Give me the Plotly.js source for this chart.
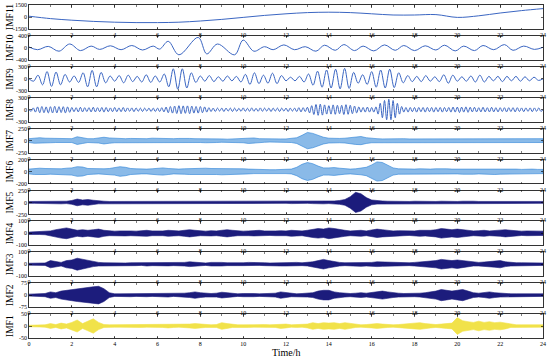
<!DOCTYPE html>
<html>
<head>
<meta charset="utf-8">
<script src="https://cdn.plot.ly/plotly-3.0.1.min.js"></script>
<style>html,body{margin:0;padding:0;background:#fff;}#chart{width:550px;height:362px;}</style>
</head>
<body>
<div id="chart"></div>
<script>
// ---------------- data ----------------
const xTickVals = [0, 2, 4, 6, 8, 10, 12, 14, 16, 18, 20, 22, 24];
const imfNames = ['IMF11', 'IMF10', 'IMF9', 'IMF8', 'IMF7', 'IMF6', 'IMF5', 'IMF4', 'IMF3', 'IMF2', 'IMF1'];
const yLimits = [1500, 400, 300, 300, 250, 200, 250, 100, 100, 75, 50];

// IMF11: hourly samples (t = 0..24 h)
const imf11Hours = [0,1,2,3,4,5,6,7,8,9,10,11,12,13,14,15,16,17,18,19,20,21,22,23,24];
const imf11 = [100,-200,-400,-550,-650,-700,-700,-650,-500,-300,-50,200,400,550,600,550,400,250,250,300,-50,150,500,800,1050];

// IMF10: extrema (time in h, value)
const imf10Time = [0,0.4,0.9,1.4,1.9,2.4,2.9,3.3,3.8,4.3,4.8,5.3,5.8,6.1,6.5,7.0,7.9,8.3,8.8,9.6,10.0,10.5,11.0,11.4,11.9,12.4,12.9,13.4,13.8,14.3,14.7,15.2,15.6,16.1,16.6,17.1,17.5,18.0,18.5,19.0,19.4,19.9,20.3,20.8,21.2,21.7,22.2,22.6,23.1,23.6,24.0];
const imf10 = [30,-60,50,-110,130,-90,60,-50,70,-60,80,-70,60,-40,220,-230,350,-200,130,-230,260,-110,40,-60,100,-60,40,-110,90,-80,110,-90,60,-100,100,-80,80,-90,70,-70,90,-100,60,-90,80,-60,110,-80,60,-50,20];

// IMF9: successive extrema, evenly spaced over 0..24 h
const imf9 = [0,-60,90,-150,180,-190,170,-150,110,-80,70,-90,150,-200,210,-200,160,-100,70,-60,80,-100,90,-70,60,-80,100,-90,70,-80,120,-200,250,-260,250,-230,150,-90,70,-60,80,-70,50,-60,70,-50,60,-80,110,-140,150,-120,90,-110,140,-120,80,-50,40,-50,60,-80,120,-160,190,-210,220,-230,240,-250,260,-240,160,-110,100,-140,180,-210,220,-230,240,-220,150,-100,80,-70,60,-70,80,-60,50,-70,100,-110,90,-60,50,-60,70,-80,90,-80,60,-50,60,-70,60,-50,60,-60,50,-50,40,-40,0];

// IMF8: successive extrema, evenly spaced over 0..24 h
const imf8 = [
0,-40,45,-60,70,-75,80,-75,70,-80,
75,-80,85,-80,75,-70,75,-80,70,-65,
55,-50,50,-55,60,-55,50,-45,50,-55,
60,-55,50,-50,55,-60,55,-50,45,-50,
55,-50,45,-50,55,-50,45,-40,45,-50,
45,-40,40,-45,40,-35,40,-45,40,-45,
40,-45,50,-55,65,-75,80,-85,90,-95,
100,-100,95,-90,95,-100,90,-85,80,-85,
80,-75,70,-60,50,-45,40,-45,40,-35,
40,-45,40,-35,40,-45,40,-40,35,-40,
45,-40,35,-40,45,-40,35,-40,45,-40,
40,-35,40,-45,40,-35,40,-45,40,-35,
40,-45,40,-35,40,-45,50,-55,50,-45,
60,-80,100,-120,130,-140,140,-135,120,-110,
100,-110,120,-115,110,-100,110,-120,125,-115,
110,-100,90,-80,70,-60,55,-60,65,-60,
55,-60,70,-110,160,-200,230,-250,260,-250,
230,-200,160,-110,80,-60,55,-60,55,-50,
55,-60,55,-50,55,-60,55,-50,55,-60,
55,-50,55,-60,55,-50,55,-60,65,-60,
65,-70,65,-60,70,-65,60,-55,60,-55,
50,-55,60,-55,50,-55,60,-55,50,-55,
50,-45,50,-55,50,-45,50,-55,50,-45,
45,-50,45,-40,45,-50,45,-40,45,-40,
0];

// IMF7..IMF1: amplitude envelopes sampled every 0.25 h (0..24 h)
const env7 = [40,55,60,50, 45,40,35,35, 40,80,60,40, 40,50,70,55, 45,40,40,45, 40,35,40,50, 45,40,35,40, 45,50,45,40, 40,45,50,40, 35,30,35,40, 45,60,55,40, 35,30,30,35, 35,40,60,110, 170,150,110,70, 50,40,45,50, 60,80,85,60, 45,40,35,40, 40,45,40,35, 35,40,45,40, 40,45,40,35, 35,40,45,50, 45,40,40,35, 35,40,40,45, 40,35,35,40, 40];
const env6 = [40,50,55,50, 45,40,45,55, 60,80,75,50, 45,40,45,50, 60,80,70,50, 45,40,40,45, 55,60,50,40, 40,45,50,55, 60,55,50,50, 55,50,55,50, 45,40,35,30, 25,30,30,35, 35,40,70,120, 150,130,90,60, 60,65,55,45, 40,45,55,70, 110,160,150,100, 60,45,40,40, 40,45,40,40, 45,50,45,40, 40,45,50,45, 40,40,45,50, 45,40,40,40, 35,40,40,35, 35];
const env5 = [20,20,25,20, 20,25,30,25, 40,70,50,60, 45,30,25,20, 20,25,20,20, 20,25,30,25, 20,20,25,20, 20,20,20,25, 25,20,20,25, 30,25,20,20, 20,25,20,20, 20,20,25,20, 20,25,30,25, 20,25,35,30, 25,30,40,60, 120,210,180,100, 50,35,30,25, 20,25,20,20, 25,20,20,25, 20,25,20,20, 20,25,30,25, 20,20,25,20, 20,20,20,25, 20,20,20,20, 20];
const env4 = [10,12,10,12, 20,30,40,45, 35,25,30,25, 30,35,25,20, 18,20,22,20, 18,22,25,20, 18,20,25,22, 20,25,30,25, 20,18,22,20, 25,30,25,20, 18,20,22,25, 20,18,20,22, 20,25,22,20, 25,35,40,35, 45,40,30,25, 20,22,25,20, 25,35,30,25, 20,22,20,18, 20,25,22,25, 30,40,35,30, 35,30,25,20, 22,25,20,22, 25,30,25,20, 18,20,18,20, 18];
const env3 = [8,8,10,10, 30,25,15,30, 35,50,40,30, 20,15,12,10, 10,12,10,12, 12,10,15,12, 10,12,14,12, 12,15,20,15, 12,10,15,18, 15,12,10,12, 12,15,12,10, 12,10,12,15, 15,18,15,12, 15,20,30,40, 30,20,15,12, 12,15,18,15, 15,20,18,15, 12,14,12,12, 15,18,20,25, 30,40,35,30, 35,30,20,15, 15,18,20,25, 30,20,15,12, 12,10,12,10, 10];
const env2 = [6,6,8,10, 20,15,25,30, 35,40,45,48, 52,55,40,15, 8,8,8,10, 8,8,10,8, 8,10,12,8, 10,12,15,20, 15,12,10,12, 18,15,10,8, 10,12,10,8, 8,10,12,20, 15,10,8,10, 12,15,25,30, 30,20,15,12, 10,12,15,12, 15,20,25,20, 15,12,10,10, 10,12,15,20, 25,35,30,25, 30,35,25,15, 12,15,20,15, 12,10,8,8, 8,8,8,8, 8];
const env1 = [3,3,4,5, 10,6,12,8, 15,25,10,20, 30,15,6,5, 5,5,6,5, 5,6,5,5, 5,6,8,6, 5,6,8,10, 8,6,5,6, 14,10,6,5, 5,6,5,5, 6,5,6,10, 8,5,6,5, 8,14,10,14, 12,14,10,14, 10,6,5,6, 8,10,8,6, 5,6,8,10, 12,14,10,8, 6,8,10,12, 35,22,18,15, 20,15,18,14, 16,12,6,5, 5,5,6,5, 5];

// ---------------- styling ----------------
const colMid = '#3b66c2';
const colLight = '#2a82d6';
const colLightFill = 'rgba(42,130,214,0.55)';
const colNavy = '#1c1c7c';
const colYellow = '#f1e24a';
const fontFam = '"Liberation Serif", "Times New Roman", serif';

const W = 550, H = 362;
const marg = {l: 29, r: 7, t: 5, b: 24};
const plotH = H - marg.t - marg.b;
const rowH = 24 / plotH;
const pitch = (1 - rowH) / 10;

function evenTimes(n) { const a = []; for (let i = 0; i < n; i++) a.push(24 * i / (n - 1)); return a; }

function lineTrace(x, y, k, color, spline) {
  const s = k === 0 ? '' : String(k + 1);
  return {x: x, y: y, xaxis: 'x' + s, yaxis: 'y' + s, type: 'scatter', mode: 'lines',
    line: {color: color, width: 1, shape: spline ? 'spline' : 'linear', smoothing: 1},
    hoverinfo: 'skip', showlegend: false};
}
function bandTrace(env, k, color, fillColor) {
  const s = k === 0 ? '' : String(k + 1);
  const t = evenTimes(env.length);
  const xs = t.concat(t.slice().reverse());
  const ys = env.concat(env.slice().reverse().map(v => -v));
  return {x: xs, y: ys, xaxis: 'x' + s, yaxis: 'y' + s, type: 'scatter', mode: 'lines',
    fill: 'toself', fillcolor: fillColor,
    line: {color: color, width: 0.6}, hoverinfo: 'skip', showlegend: false};
}

const traces = [
  lineTrace(imf11Hours, imf11, 0, colMid, true),
  lineTrace(imf10Time, imf10, 1, colMid, true),
  lineTrace(evenTimes(imf9.length), imf9, 2, colMid, true),
  lineTrace(evenTimes(imf8.length), imf8, 3, colMid, true),
  bandTrace(env7, 4, colLight, colLightFill),
  bandTrace(env6, 5, colLight, colLightFill),
  bandTrace(env5, 6, colNavy, colNavy),
  bandTrace(env4, 7, colNavy, colNavy),
  bandTrace(env3, 8, colNavy, colNavy),
  bandTrace(env2, 9, colNavy, colNavy),
  bandTrace(env1, 10, colYellow, colYellow)
];

const layout = {
  width: W, height: H, margin: marg,
  paper_bgcolor: '#fff', plot_bgcolor: '#fff',
  font: {family: fontFam, size: 6, color: '#000'},
  showlegend: false,
  annotations: []
};

for (let k = 0; k < 11; k++) {
  const s = k === 0 ? '' : String(k + 1);
  const top = 1 - k * pitch;
  const R = yLimits[k];
  layout['xaxis' + s] = {
    domain: [0, 1], anchor: 'y' + s, range: [0, 24],
    tickmode: 'array', tickvals: xTickVals, ticktext: xTickVals.map(String),
    ticks: 'inside', ticklen: 2.5, tickwidth: 0.6, tickcolor: '#000',
    minor: {dtick: 1, ticks: 'inside', ticklen: 1.5, tickwidth: 0.5, tickcolor: '#000'},
    showline: true, linecolor: '#000', linewidth: 0.8, mirror: 'ticks',
    showgrid: false, zeroline: false, fixedrange: true,
    tickfont: {family: fontFam, size: 6, color: '#000'}
  };
  layout['yaxis' + s] = {
    domain: [top - rowH, top], anchor: 'x' + s, range: [-R, R],
    tickmode: 'array', tickvals: [-R, 0, R], ticktext: ['-' + R, '0', String(R)],
    ticks: 'inside', ticklen: 2.5, tickwidth: 0.6, tickcolor: '#000',
    showline: true, linecolor: '#000', linewidth: 0.8, mirror: 'ticks',
    showgrid: false, zeroline: false, fixedrange: true,
    tickfont: {family: fontFam, size: 6, color: '#000'}
  };
  layout.annotations.push({
    text: imfNames[k], xref: 'paper', yref: 'y' + s + ' domain',
    x: (10 - marg.l) / (W - marg.l - marg.r), y: 0.5,
    xanchor: 'center', yanchor: 'middle', textangle: -90, showarrow: false,
    font: {family: fontFam, size: 9.5, color: '#000'}
  });
}
layout.annotations.push({
  text: 'Time/h', xref: 'paper', yref: 'paper', x: 0.5, y: -(352 - (H - marg.b)) / plotH,
  xanchor: 'center', yanchor: 'middle', showarrow: false,
  font: {family: fontFam, size: 10, color: '#000'}
});

Plotly.newPlot('chart', traces, layout, {displayModeBar: false, staticPlot: true});
</script>
</body>
</html>
